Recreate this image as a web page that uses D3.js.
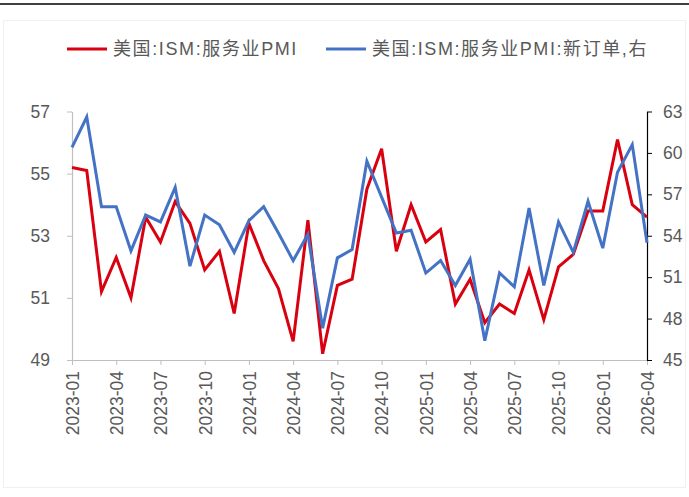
<!DOCTYPE html>
<html>
<head>
<meta charset="utf-8">
<script src="https://cdn.jsdelivr.net/npm/d3@7"></script>
<style>
  body { margin: 0; background: #fff; }
  svg { display: block; font-family: "Liberation Sans", Arial, "Noto Sans CJK SC", sans-serif; }
</style>
</head>
<body>
<div id="chart"></div>
<script>
// monthly, 2023-01 .. 2026-04
var months = [];
for (var yr = 2023; yr <= 2026; yr++) {
  for (var m = 1; m <= 12; m++) {
    if (yr === 2026 && m > 4) break;
    months.push(yr + "-" + (m < 10 ? "0" + m : m));
  }
}

var pmi = [55.2, 55.1, 51.2, 52.3, 51.0, 53.6, 52.8, 54.1, 53.4, 51.9, 52.5, 50.5,
           53.4, 52.2, 51.3, 49.6, 53.5, 49.2, 51.4, 51.6, 54.5, 55.8, 52.5, 54.0,
           52.8, 53.2, 50.8, 51.6, 50.2, 50.8, 50.5, 51.9, 50.3, 52.0, 52.4, 53.8,
           53.8, 56.1, 54.0, 53.6];

var newOrders = [60.4, 62.6, 56.1, 56.1, 52.9, 55.5, 55.0, 57.5, 51.8, 55.5, 54.8, 52.8,
                 55.1, 56.1, 54.2, 52.2, 54.1, 47.3, 52.4, 53.0, 59.4, 56.8, 54.2, 54.4,
                 51.3, 52.2, 50.4, 52.3, 46.4, 51.3, 50.3, 56.0, 50.4, 55.0, 52.8, 56.5,
                 53.1, 58.6, 60.6, 53.5];

var leftTicks = [49, 51, 53, 55, 57];
var rightTicks = [45, 48, 51, 54, 57, 60, 63];
var xTickLabels = ["2023-01", "2023-04", "2023-07", "2023-10", "2024-01", "2024-04", "2024-07",
                   "2024-10", "2025-01", "2025-04", "2025-07", "2025-10", "2026-01", "2026-04"];

var seriesNames = ["美国:ISM:服务业PMI", "美国:ISM:服务业PMI:新订单,右"];
var colors = ["#d9000f", "#4472c4"];

var W = 689, H = 497;
var margin = { top: 111.5, right: 42, bottom: 137, left: 72 };
var width = W - margin.left - margin.right;
var height = H - margin.top - margin.bottom;

var svg = d3.select("#chart")
  .append("svg")
  .attr("width", W)
  .attr("height", H);

// top rule and faint frame
svg.append("line")
  .attr("x1", 0).attr("x2", W).attr("y1", 4).attr("y2", 4)
  .style("stroke", "#404040").style("stroke-width", 2);
svg.append("rect")
  .attr("x", 3.5).attr("y", 20.5).attr("width", W - 7).attr("height", H - 30)
  .style("fill", "none").style("stroke", "#f0f0f0");

var g = svg.append("g")
  .attr("transform", "translate(" + margin.left + "," + margin.top + ")");

var x = d3.scalePoint()
  .domain(months)
  .range([0, width]);

var yL = d3.scaleLinear().domain([49, 57]).range([height, 0]);
var yR = d3.scaleLinear().domain([45, 63]).range([height, 0]);

// x axis
var xAxis = g.append("g")
  .attr("transform", "translate(0," + height + ")")
  .call(d3.axisBottom(x).tickValues(xTickLabels).tickSize(5).tickSizeOuter(0));
xAxis.select(".domain").style("stroke", "#bfbfbf");
xAxis.selectAll(".tick line").style("stroke", "#bfbfbf");
xAxis.selectAll(".tick text")
  .attr("transform", "rotate(-90)")
  .attr("x", -11).attr("y", 0).attr("dy", "0.36em")
  .style("text-anchor", "end")
  .style("font-size", "17.5px")
  .style("fill", "#595959");

// left axis
var axL = g.append("g")
  .call(d3.axisLeft(yL).tickValues(leftTicks).tickSize(5).tickSizeOuter(0));
axL.select(".domain").style("stroke", "#bfbfbf");
axL.selectAll(".tick line").style("stroke", "#bfbfbf");
axL.selectAll(".tick text").attr("x", -22).style("font-size", "17.5px").style("fill", "#595959");

// right axis
var axR = g.append("g")
  .attr("transform", "translate(" + width + ",0)")
  .call(d3.axisRight(yR).tickValues(rightTicks).tickSize(5).tickSizeOuter(0));
axR.select(".domain").style("stroke", "#000");
axR.selectAll(".tick line").style("stroke", "#000");
axR.selectAll(".tick text").attr("x", 16).style("font-size", "17.5px").style("fill", "#595959");

svg.selectAll(".domain").style("stroke-width", 1.2);

// lines
var lineL = d3.line()
  .x(function(d, i) { return x(months[i]); })
  .y(function(d) { return yL(d); });
var lineR = d3.line()
  .x(function(d, i) { return x(months[i]); })
  .y(function(d) { return yR(d); });

g.append("path")
  .datum(pmi)
  .attr("d", lineL)
  .style("fill", "none")
  .style("stroke", colors[0])
  .style("stroke-width", 3)
  .style("stroke-linejoin", "miter");

g.append("path")
  .datum(newOrders)
  .attr("d", lineR)
  .style("fill", "none")
  .style("stroke", colors[1])
  .style("stroke-width", 3)
  .style("stroke-linejoin", "miter");

// legend
var legendX = [67, 326];
var legendTextW = [185, 276];
var legend = svg.selectAll(".legend")
  .data(seriesNames)
  .enter().append("g")
  .attr("class", "legend")
  .attr("transform", function(d, i) { return "translate(" + legendX[i] + ",49)"; });
legend.append("line")
  .attr("x1", 0).attr("x2", 40)
  .style("stroke", function(d, i) { return colors[i]; })
  .style("stroke-width", 3);
legend.append("text")
  .attr("x", 46).attr("dy", "0.36em")
  .style("font-size", "18px")
  .style("fill", "#595959")
  .style("font-family", "'Liberation Sans', 'Noto Sans CJK SC', sans-serif")
  .text(function(d) { return d; })
  .each(function(d, i) {
    // spread the text to the width seen in the original
    var len = this.getComputedTextLength();
    var n = d.length;
    d3.select(this).style("letter-spacing", ((legendTextW[i] - len) / n) + "px");
  });
</script>
</body>
</html>
